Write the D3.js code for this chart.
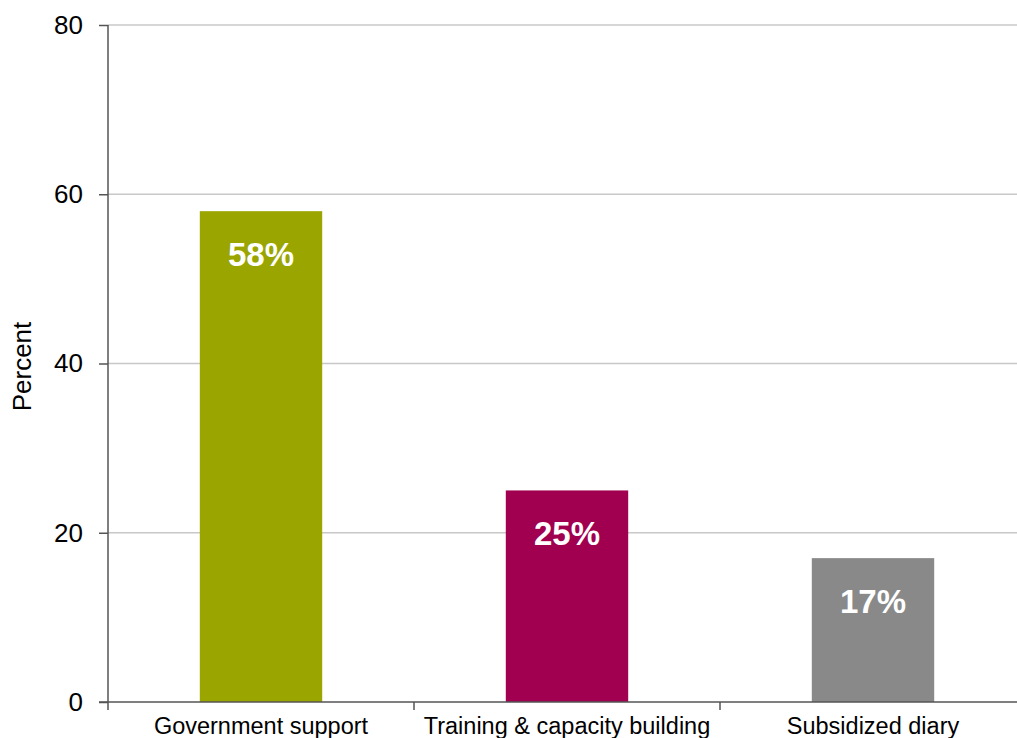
<!DOCTYPE html>
<html>
<head>
<meta charset="utf-8">
<script src="https://cdn.jsdelivr.net/npm/d3@7"></script>
<style>
  body { margin: 0; background: #fff; }
  svg text { font-family: "Liberation Sans", Arial, sans-serif; }
</style>
</head>
<body>
<div class="chart"></div>
<script>
const categories = ["Government support", "Training & capacity building", "Subsidized diary"];
const values = [58, 25, 17];
const barColors = ["#9aa500", "#a0004f", "#898989"];
const yTicks = [0, 20, 40, 60, 80];

const W = 1017, H = 738;
const margin = { top: 25, right: -9, bottom: 36, left: 108 };
const width = W - margin.left - margin.right;
const height = H - margin.top - margin.bottom;

const svg = d3.select('.chart').append('svg')
  .attr('width', W).attr('height', H);
const g = svg.append('g')
  .attr('transform', 'translate(' + margin.left + ',' + margin.top + ')');

const x = d3.scaleBand().domain(categories).range([0, width]).paddingInner(0.6).paddingOuter(0.3);
const y = d3.scaleLinear().domain([0, 80]).range([height, 0]);

// gridlines
g.selectAll('.grid').data(yTicks.filter(d => d > 0)).enter().append('line')
  .attr('x1', 0).attr('x2', width)
  .attr('y1', d => y(d)).attr('y2', d => y(d))
  .attr('stroke', '#c8c8c8').attr('stroke-width', 1.5);

// bars
g.selectAll('.bar').data(values).enter().append('rect')
  .attr('x', (d, i) => x(categories[i]))
  .attr('y', d => y(d))
  .attr('width', x.bandwidth())
  .attr('height', d => height - y(d))
  .attr('fill', (d, i) => barColors[i]);

// bar labels
g.selectAll('.lbl').data(values).enter().append('text')
  .attr('x', (d, i) => x(categories[i]) + x.bandwidth() / 2)
  .attr('y', d => y(d) + 55)
  .attr('text-anchor', 'middle')
  .attr('fill', '#fff')
  .attr('font-weight', 'bold')
  .attr('font-size', 33)
  .text(d => d + '%');

// y axis
const yAxis = d3.axisLeft(y).tickValues(yTicks).tickSize(9).tickPadding(16);
const yg = g.append('g').call(yAxis);
yg.select('.domain').attr('stroke', '#555').attr('stroke-width', 1.5).attr('d', 'M0,' + height + 'V0');
yg.selectAll('.tick line').attr('stroke', '#555').attr('stroke-width', 1.5);
yg.selectAll('.tick text').attr('font-size', 26).attr('fill', '#000');

// x axis
const xTickPos = [0, 1, 2].map(i => x(categories[i]) - (x.step() - x.bandwidth()) / 2);
const xg = g.append('g').attr('transform', 'translate(0,' + height + ')');
xg.append('line').attr('x1', -9).attr('x2', width)
  .attr('stroke', '#555').attr('stroke-width', 1.5);
xg.selectAll('.xt').data(xTickPos).enter().append('line')
  .attr('x1', d => d).attr('x2', d => d).attr('y1', 0).attr('y2', 8)
  .attr('stroke', '#555').attr('stroke-width', 1.5);
xg.selectAll('.xl').data(categories).enter().append('text')
  .attr('x', d => x(d) + x.bandwidth() / 2)
  .attr('y', 32)
  .attr('text-anchor', 'middle')
  .attr('font-size', 23.5)
  .attr('fill', '#000')
  .text(d => d);

// y title
svg.append('text')
  .attr('transform', 'translate(31,' + (margin.top + height / 2 + 3) + ') rotate(-90)')
  .attr('text-anchor', 'middle')
  .attr('font-size', 26)
  .attr('fill', '#000')
  .text('Percent');
</script>
</body>
</html>
